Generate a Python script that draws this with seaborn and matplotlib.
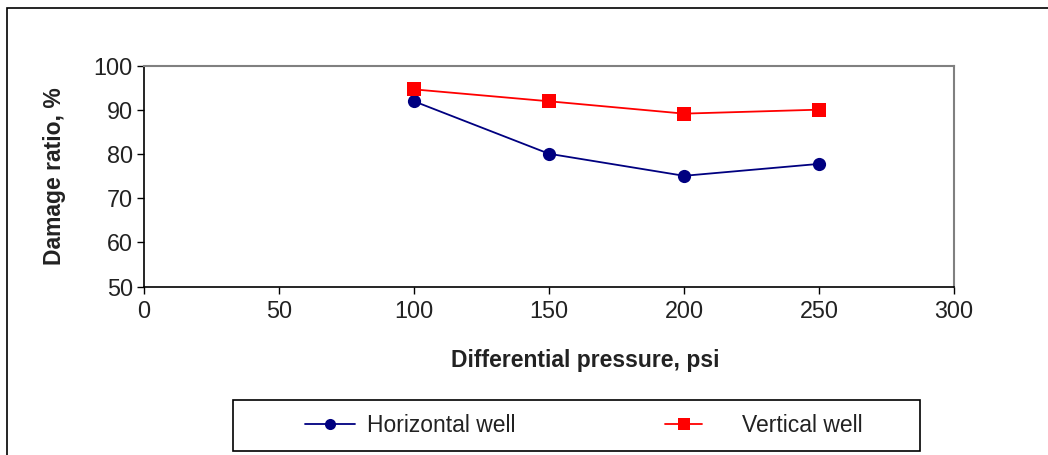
import matplotlib.pyplot as plt
import matplotlib.patches as patches
import pandas as pd
import numpy as np
import seaborn as sns

pressure = [100, 150, 200, 250]
horizontal = [92.0, 80.1, 75.1, 77.8]
vertical = [94.7, 92.0, 89.2, 90.1]
series_names = ["Horizontal well", "Vertical well"]

sns.set_style("white")
plt.rcParams['font.family'] = ['Liberation Sans', 'DejaVu Sans']

df = pd.DataFrame({
    "pressure": pressure * 2,
    "ratio": horizontal + vertical,
    "well": [series_names[0]] * 4 + [series_names[1]] * 4,
})

W, H = 1048, 455
fig = plt.figure(figsize=(W / 100, H / 100), dpi=100)
ax = fig.add_axes([144 / W, 1 - 286.5 / H, 810 / W, 220.5 / H])

sns.lineplot(data=df, x="pressure", y="ratio", hue="well", style="well",
             markers={series_names[0]: "o", series_names[1]: "s"}, dashes=False,
             palette={series_names[0]: "#000080", series_names[1]: "#ff0000"},
             markersize=9.5, markeredgewidth=0, linewidth=1.3, ax=ax, legend=False)

ax.set_xlim(0, 300)
ax.set_ylim(50, 100)
ax.set_xticks(np.arange(0, 301, 50))
ax.set_yticks(np.arange(50, 101, 10))
ax.tick_params(axis='both', labelsize=16.8, length=5, width=1, color='black',
               direction='out', left=True, bottom=True, labelcolor='#222222')
ax.tick_params(axis='y', pad=3)
ax.tick_params(axis='x', pad=5)
ax.set_xlabel("Differential pressure, psi", fontsize=16.5, fontweight='bold', color='#222222')
ax.set_ylabel("Damage ratio, %", fontsize=16.5, fontweight='bold', color='#222222')
ax.xaxis.set_label_coords((585 - 144) / 810, (286.5 - 361) / 220.5)
ax.yaxis.set_label_coords((55 - 144) / 810, 0.5)
ax.xaxis.label.set_va('center')
ax.yaxis.label.set_va('center')

for side in ['left', 'bottom']:
    ax.spines[side].set_color('black')
    ax.spines[side].set_linewidth(1.2)
for side in ['top', 'right']:
    ax.spines[side].set_color('#808080')
    ax.spines[side].set_linewidth(1.5)

# figure border (cropped on the right and bottom)
fig.patches.append(patches.Rectangle((7 / W, -0.1), 1.1, 1 - 8 / H + 0.1,
                                     transform=fig.transFigure, fill=False,
                                     edgecolor='black', linewidth=1.2))
# legend box
fig.patches.append(patches.Rectangle((233 / W, 1 - 451 / H), 687 / W, 51 / H,
                                     transform=fig.transFigure, fill=False,
                                     edgecolor='black', linewidth=1.2))

h_handle = plt.Line2D([], [], color="#000080", marker="o", markersize=8, markeredgewidth=0, linewidth=1.3)
v_handle = plt.Line2D([], [], color="#ff0000", marker="s", markersize=8, markeredgewidth=0, linewidth=1.3)
# 16.5 pt font -> 22.9 px per em
em = 16.5 * 100 / 72
leg1 = fig.legend([h_handle], [series_names[0]], loc='center left',
                  bbox_to_anchor=(305 / W, 1 - 426 / H), fontsize=16.5,
                  frameon=False, handlelength=50 / em, handletextpad=12 / em,
                  borderpad=0, borderaxespad=0)
leg2 = fig.legend([v_handle], [series_names[1]], loc='center left',
                  bbox_to_anchor=(665 / W, 1 - 426 / H), fontsize=16.5,
                  frameon=False, handlelength=37 / em, handletextpad=40 / em,
                  borderpad=0, borderaxespad=0)
for leg in (leg1, leg2):
    for t in leg.get_texts():
        t.set_color('#222222')

fig.savefig("out.png", dpi=100)
